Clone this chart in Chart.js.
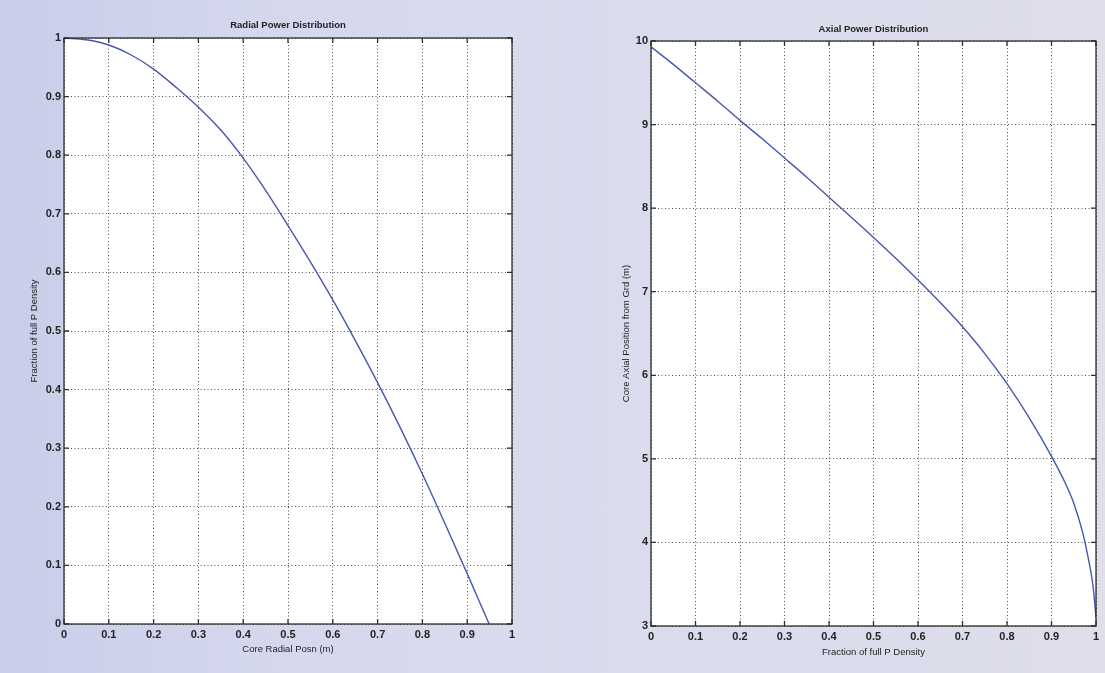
<!DOCTYPE html>
<html>
<head>
<meta charset="utf-8">
<script src="https://cdn.jsdelivr.net/npm/chart.js@4/dist/chart.umd.min.js"></script>
<style>
  html, body { margin: 0; padding: 0; }
  body {
    width: 1105px;
    height: 673px;
    overflow: hidden;
    position: relative;
    background: linear-gradient(90deg, #c9cde9 0%, #d5d8ed 25%, #dadcee 55%, #dbdcec 80%, #dfdfea 100%);
  }
  .panel { position: absolute; top: 0; height: 673px; }
  #radial-box { left: 0; width: 540px; }
  #axial-box { left: 560px; width: 545px; }
</style>
</head>
<body>
<div class="panel" id="radial-box"><canvas id="radialChart"></canvas></div>
<div class="panel" id="axial-box"><canvas id="axialChart"></canvas></div>
<script>
// DATA
const radialPos = [0, 0.05, 0.1, 0.15, 0.2, 0.25, 0.3, 0.35, 0.4, 0.45, 0.5, 0.55, 0.6, 0.65, 0.7, 0.75, 0.8, 0.85, 0.9, 0.949]
const radialFrac = [1, 0.997, 0.988, 0.971, 0.947, 0.916, 0.882, 0.843, 0.795, 0.74, 0.68, 0.618, 0.553, 0.484, 0.412, 0.336, 0.256, 0.172, 0.086, 0]
const axialFrac = [0, 0.05, 0.1, 0.15, 0.2, 0.25, 0.3, 0.35, 0.4, 0.45, 0.5, 0.55, 0.6, 0.65, 0.7, 0.75, 0.8, 0.85, 0.9, 0.93, 0.95, 0.97, 0.98, 0.99, 0.995, 1]
const axialPos = [9.93, 9.72, 9.5, 9.28, 9.05, 8.83, 8.6, 8.37, 8.13, 7.89, 7.65, 7.4, 7.14, 6.87, 6.58, 6.26, 5.9, 5.49, 5.03, 4.72, 4.47, 4.12, 3.88, 3.6, 3.4, 3.1]
// TICK LABELS
const fracTicks = [0, 0.1, 0.2, 0.3, 0.4, 0.5, 0.6, 0.7, 0.8, 0.9, 1]
const axialTicks = [3, 4, 5, 6, 7, 8, 9, 10]

const lineColor = '#4656b2'
const textColor = '#232323'
const fontFamily = "'Liberation Sans', Arial, sans-serif"

// WHITE PLOT AREA, BOX AND INWARD TICK MARKS (MATLAB STYLE)
const matlabBox = {
  id: 'matlabBox',
  beforeDraw(chart) {
    const { ctx, chartArea: a } = chart
    ctx.save()
    ctx.fillStyle = '#ffffff'
    ctx.fillRect(a.left, a.top, a.right - a.left, a.bottom - a.top)
    ctx.restore()
  },
  afterDraw(chart) {
    const { ctx, chartArea: a, scales } = chart
    ctx.save()
    ctx.strokeStyle = '#2e2e2e'
    ctx.lineWidth = 1.3
    ctx.beginPath()
    scales.x.ticks.forEach(t => {
      const px = scales.x.getPixelForValue(t.value)
      ctx.moveTo(px, a.bottom); ctx.lineTo(px, a.bottom - 5)
      ctx.moveTo(px, a.top); ctx.lineTo(px, a.top + 5)
    })
    scales.y.ticks.forEach(t => {
      const py = scales.y.getPixelForValue(t.value)
      ctx.moveTo(a.left, py); ctx.lineTo(a.left + 5, py)
      ctx.moveTo(a.right, py); ctx.lineTo(a.right - 5, py)
    })
    ctx.stroke()
    ctx.strokeRect(a.left, a.top, a.right - a.left, a.bottom - a.top)
    ctx.restore()
  }
}

function makePoints(xs, ys) {
  return xs.map((x, i) => ({ x: x, y: ys[i] }))
}

function makeAxis(opts) {
  return {
    type: 'linear',
    min: opts.min,
    max: opts.max,
    afterBuildTicks: s => { s.ticks = opts.ticks.map(v => ({ value: v })) },
    afterFit: s => {
      if (opts.width) s.width = opts.width
      if (opts.height) s.height = opts.height
    },
    grid: { color: 'rgba(60,60,60,0.9)', lineWidth: 1, drawTicks: false },
    border: { display: false, dash: [1, 2.5] },
    ticks: {
      color: textColor,
      padding: opts.tickPad,
      autoSkip: false,
      maxRotation: 0,
      callback: v => String(v),
      font: { family: fontFamily, size: 11, weight: 'bold' }
    },
    title: {
      display: true,
      text: opts.title,
      color: textColor,
      padding: opts.titlePad,
      font: { family: fontFamily, size: 9.5 }
    }
  }
}

function makeChart(canvasId, cfg) {
  return new Chart(document.getElementById(canvasId).getContext('2d'), {
    type: 'scatter',
    data: {
      datasets: [{
        data: makePoints(cfg.xs, cfg.ys),
        showLine: true,
        borderColor: lineColor,
        borderWidth: 1.4,
        pointRadius: 0,
        cubicInterpolationMode: 'monotone',
        fill: false
      }]
    },
    options: {
      responsive: true,
      maintainAspectRatio: false,
      animation: false,
      layout: { padding: cfg.padding },
      plugins: {
        legend: { display: false },
        tooltip: { enabled: false },
        title: {
          display: true,
          text: cfg.title,
          fullSize: false,
          color: textColor,
          padding: cfg.titlePad,
          font: { family: fontFamily, size: 9.5, weight: 'bold' }
        }
      },
      scales: {
        x: makeAxis(cfg.x),
        y: makeAxis(cfg.y)
      }
    },
    plugins: [matlabBox]
  })
}

// RADIAL POWER DISTRIBUTION
const radialChart = makeChart('radialChart', {
  title: 'Radial Power Distribution',
  titlePad: { top: 20, bottom: 6.6 },
  padding: { left: 0, right: 28, top: 0, bottom: 0 },
  xs: radialPos,
  ys: radialFrac,
  x: { min: 0, max: 1, ticks: fracTicks, height: 49, tickPad: 4, title: 'Core Radial Posn (m)', titlePad: { top: 0, bottom: 18 } },
  y: { min: 0, max: 1, ticks: fracTicks, width: 64, tickPad: 3, title: 'Fraction of full P Density', titlePad: { top: 29, bottom: 0 } }
})

// AXIAL POWER DISTRIBUTION
const axialChart = makeChart('axialChart', {
  title: 'Axial Power Distribution',
  titlePad: { top: 24, bottom: 5.6 },
  padding: { left: 0, right: 9, top: 0, bottom: 0 },
  xs: axialFrac,
  ys: axialPos,
  x: { min: 0, max: 1, ticks: fracTicks, height: 47, tickPad: 4, title: 'Fraction of full P Density', titlePad: { top: 0, bottom: 15 } },
  y: { min: 3, max: 10, ticks: axialTicks, width: 91, tickPad: 3, title: 'Core Axial Position from Grd (m)', titlePad: { top: 61, bottom: 0 } }
})
</script>
</body>
</html>
